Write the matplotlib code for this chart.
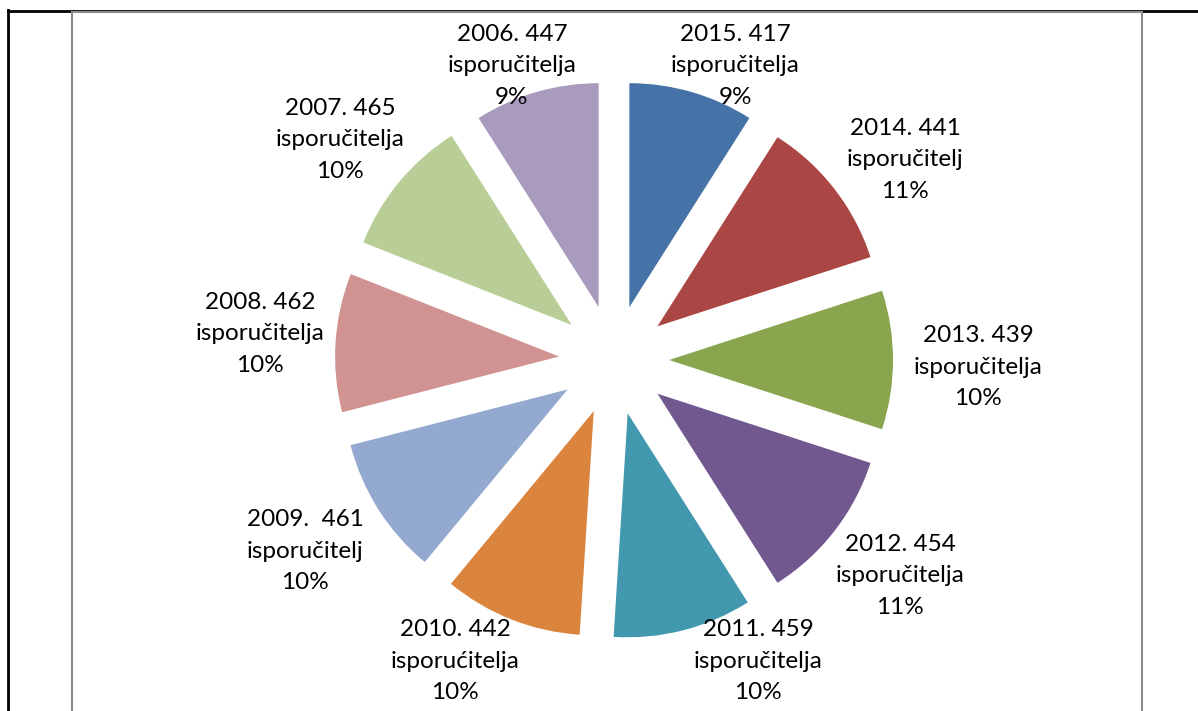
import matplotlib.pyplot as plt
from matplotlib.lines import Line2D

# data
years = ["2015", "2014", "2013", "2012", "2011", "2010", "2009", "2008", "2007", "2006"]
counts = ["417", "441", "439", "454", "459", "442", " 461", "462", "465", "447"]
words = ["isporučitelja", "isporučitelj", "isporučitelja", "isporučitelja", "isporučitelja",
         "isporućitelja", "isporučitelj", "isporučitelja", "isporučitelja", "isporučitelja"]
shares = [9, 11, 10, 11, 10, 10, 10, 10, 10, 9]
colors = ["#4572A7", "#AA4643", "#89A54E", "#71588F", "#4198AF",
          "#DB843D", "#93A9CF", "#D19392", "#B9CD96", "#A99BBD"]

# label centres (pixels from top-left)
label_pos = [(735, 66), (905, 160), (978, 367), (900, 576), (758, 661),
             (455, 661), (305, 551), (260, 334), (340, 140), (512, 66)]

W, H = 1198, 711
fig = plt.figure(figsize=(W / 100, H / 100), dpi=100)
ax = fig.add_axes([0, 0, 1, 1])

# explode is in data units here (pixels)
ax.pie(shares, colors=colors, startangle=90, counterclock=False,
       center=(614, H - 360), radius=224, explode=[55] * len(shares),
       wedgeprops=dict(linewidth=0))
ax.set_xlim(0, W)
ax.set_ylim(0, H)
ax.set_aspect("equal")
ax.axis("off")

for yr, c, w, s, (x, y) in zip(years, counts, words, shares, label_pos):
    ax.text(x, H - y, f"{yr}. {c}\n{w}\n{s}%", ha="center", va="center",
            fontsize=17.5, family="Lato", linespacing=1.62, color="black")

# table borders around the chart
def fig_line(x0, y0, x1, y1, color, lw):
    fig.add_artist(Line2D([x0 / W, x1 / W], [1 - y0 / H, 1 - y1 / H],
                          transform=fig.transFigure, color=color, lw=lw))

fig_line(8, 10.5, W, 10.5, "black", 2)
fig_line(8, 10, 8, H, "black", 2)
fig_line(72, 12, 1142, 12, "#8c8c8c", 1.5)
fig_line(72, 12, 72, H, "#8c8c8c", 1.5)
fig_line(1142, 12, 1142, H, "#8c8c8c", 1.5)

fig.savefig("out.png", dpi=100)
